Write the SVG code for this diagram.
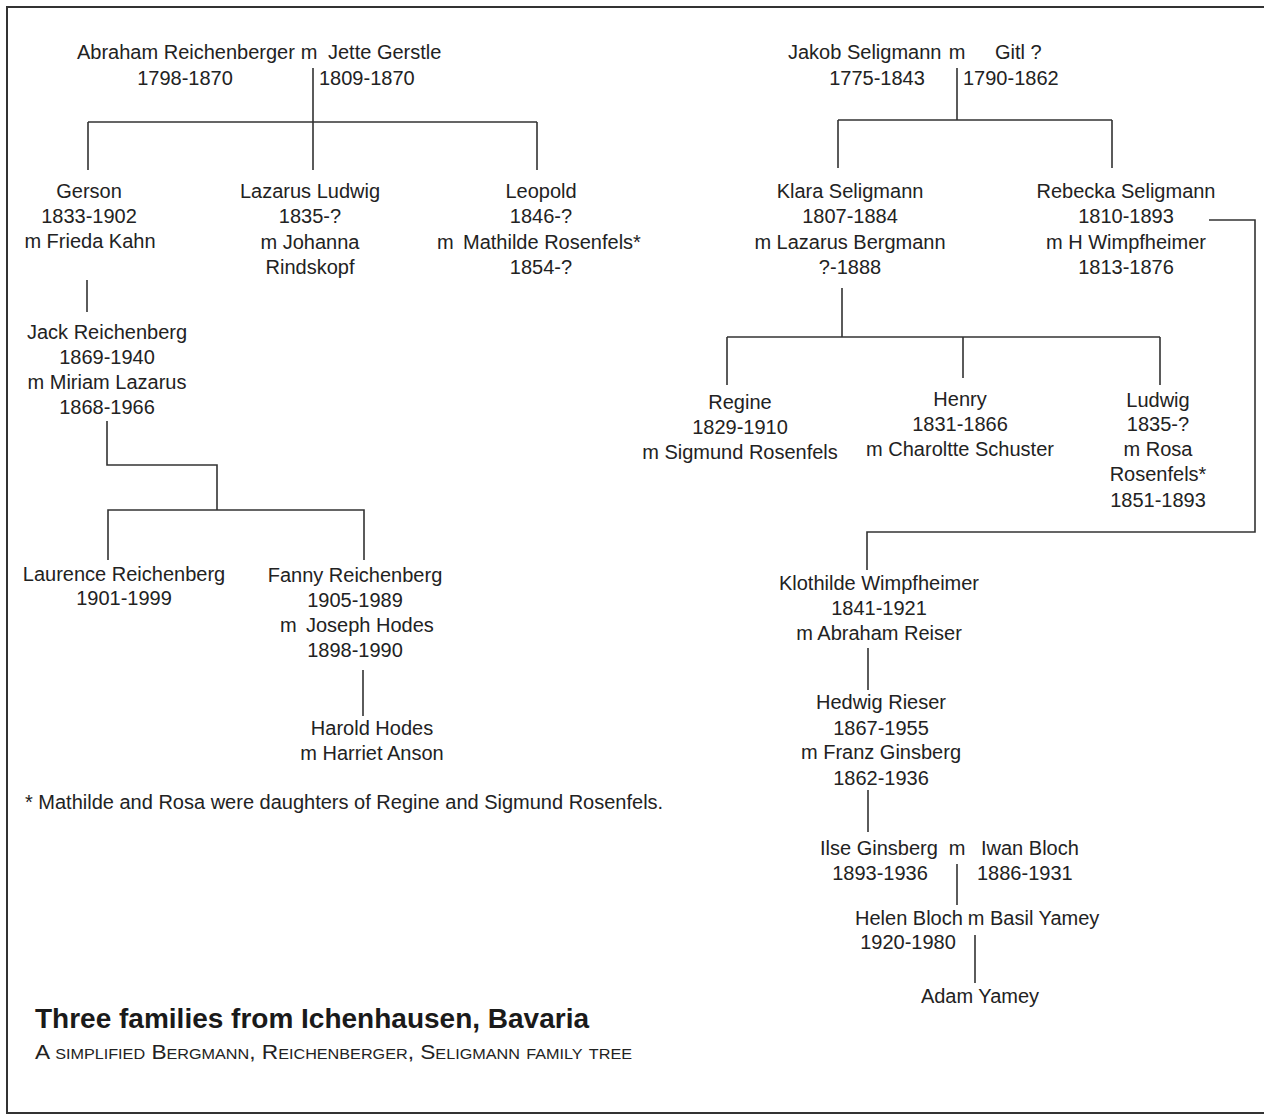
<svg xmlns="http://www.w3.org/2000/svg" width="1264" height="1116" viewBox="0 0 1264 1116">
<style>
text{font-family:"Liberation Sans",Arial,sans-serif;font-size:20px;fill:#222}
.c{text-anchor:middle}
.title{font-size:28px;font-weight:bold;fill:#1a1a1a}
.sub{font-size:21px;font-variant:small-caps}
.ln{fill:none;stroke:#333;stroke-width:1.6}
</style>
<rect x="7" y="7" width="1270" height="1106" fill="#fff" stroke="#333" stroke-width="2"/>
<g id="connectors" class="ln">
<path d="M313 68V170M88 122H537M88 122V170M537 122V170"/>
<path d="M87 280V312"/>
<path d="M107 421V465H217V510M108 560V510H364V560"/>
<path d="M363 670V716"/>
<path d="M957 68V120M838 120H1112M838 120V168M1112 120V168"/>
<path d="M1209 220H1255V532H867V570"/>
<path d="M842 288V337M727 337H1160M727 337V385M963 337V378M1160 337V385"/>
<path d="M868 648V690"/>
<path d="M868 790V832"/>
<path d="M957 864V905"/>
<path d="M975 935V983"/>
</g>
<g id="reichenberger-couple">
<text x="77" y="59">Abraham Reichenberger</text>
<text class="c" x="309" y="59">m</text>
<text x="328" y="59">Jette Gerstle</text>
<text class="c" x="185" y="85">1798-1870</text>
<text x="319" y="85">1809-1870</text>
</g>
<g id="gerson">
<text class="c" x="89" y="198">Gerson</text>
<text class="c" x="89" y="223">1833-1902</text>
<text class="c" x="90" y="248">m Frieda Kahn</text>
</g>
<g id="lazarus-ludwig">
<text class="c" x="310" y="198">Lazarus Ludwig</text>
<text class="c" x="310" y="223">1835-?</text>
<text class="c" x="310" y="249">m Johanna</text>
<text class="c" x="310" y="274">Rindskopf</text>
</g>
<g id="leopold">
<text class="c" x="541" y="198">Leopold</text>
<text class="c" x="541" y="223">1846-?</text>
<text x="437" y="249">m</text>
<text x="463" y="249">Mathilde Rosenfels*</text>
<text class="c" x="541" y="274">1854-?</text>
</g>
<g id="jack">
<text class="c" x="107" y="339">Jack Reichenberg</text>
<text class="c" x="107" y="364">1869-1940</text>
<text class="c" x="107" y="389">m Miriam Lazarus</text>
<text class="c" x="107" y="414">1868-1966</text>
</g>
<g id="laurence">
<text class="c" x="124" y="581">Laurence Reichenberg</text>
<text class="c" x="124" y="605">1901-1999</text>
</g>
<g id="fanny">
<text class="c" x="355" y="582">Fanny Reichenberg</text>
<text class="c" x="355" y="607">1905-1989</text>
<text x="280" y="632">m</text>
<text x="306" y="632">Joseph Hodes</text>
<text class="c" x="355" y="657">1898-1990</text>
</g>
<g id="harold">
<text class="c" x="372" y="735">Harold Hodes</text>
<text class="c" x="372" y="760">m Harriet Anson</text>
</g>
<g id="footnote">
<text x="25" y="809">* Mathilde and Rosa were daughters of Regine and Sigmund Rosenfels.</text>
</g>
<g id="title">
<text class="title" x="35" y="1028">Three families from Ichenhausen, Bavaria</text>
<text class="sub" x="35" y="1059" textLength="597" lengthAdjust="spacingAndGlyphs">A simplified Bergmann, Reichenberger, Seligmann family tree</text>
</g>
<g id="seligmann-couple">
<text x="788" y="59">Jakob Seligmann</text>
<text class="c" x="957" y="59">m</text>
<text x="995" y="59">Gitl ?</text>
<text class="c" x="877" y="85">1775-1843</text>
<text x="963" y="85">1790-1862</text>
</g>
<g id="klara">
<text class="c" x="850" y="198">Klara Seligmann</text>
<text class="c" x="850" y="223">1807-1884</text>
<text class="c" x="850" y="249">m Lazarus Bergmann</text>
<text class="c" x="850" y="274">?-1888</text>
</g>
<g id="rebecka">
<text class="c" x="1126" y="198">Rebecka Seligmann</text>
<text class="c" x="1126" y="223">1810-1893</text>
<text class="c" x="1126" y="249">m H Wimpfheimer</text>
<text class="c" x="1126" y="274">1813-1876</text>
</g>
<g id="regine">
<text class="c" x="740" y="409">Regine</text>
<text class="c" x="740" y="434">1829-1910</text>
<text class="c" x="740" y="459">m Sigmund Rosenfels</text>
</g>
<g id="henry">
<text class="c" x="960" y="406">Henry</text>
<text class="c" x="960" y="431">1831-1866</text>
<text class="c" x="960" y="456">m Charoltte Schuster</text>
</g>
<g id="ludwig">
<text class="c" x="1158" y="407">Ludwig</text>
<text class="c" x="1158" y="431">1835-?</text>
<text class="c" x="1158" y="456">m Rosa</text>
<text class="c" x="1158" y="481">Rosenfels*</text>
<text class="c" x="1158" y="507">1851-1893</text>
</g>
<g id="klothilde">
<text class="c" x="879" y="590">Klothilde Wimpfheimer</text>
<text class="c" x="879" y="615">1841-1921</text>
<text class="c" x="879" y="640">m Abraham Reiser</text>
</g>
<g id="hedwig">
<text class="c" x="881" y="709">Hedwig Rieser</text>
<text class="c" x="881" y="735">1867-1955</text>
<text class="c" x="881" y="759">m Franz Ginsberg</text>
<text class="c" x="881" y="785">1862-1936</text>
</g>
<g id="ilse-couple">
<text x="820" y="855">Ilse Ginsberg</text>
<text class="c" x="957" y="855">m</text>
<text x="981" y="855">Iwan Bloch</text>
<text class="c" x="880" y="880">1893-1936</text>
<text x="977" y="880">1886-1931</text>
</g>
<g id="helen-couple">
<text x="855" y="925">Helen Bloch</text>
<text class="c" x="976" y="925">m</text>
<text x="990" y="925">Basil Yamey</text>
<text class="c" x="908" y="949">1920-1980</text>
</g>
<g id="adam">
<text class="c" x="980" y="1003">Adam Yamey</text>
</g>
</svg>
